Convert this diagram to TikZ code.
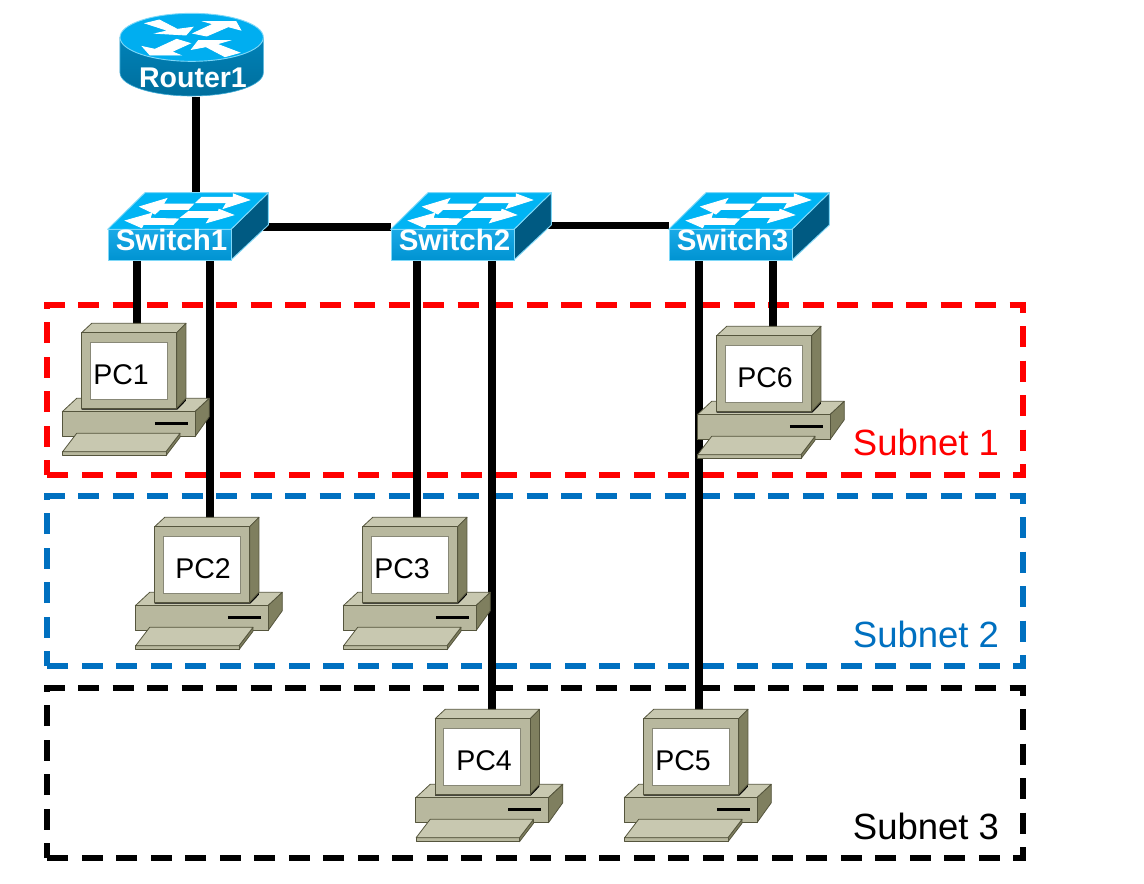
\documentclass[tikz,border=0pt]{standalone}
\usepackage{fontspec}
\setmainfont{Liberation Sans}
\pgfdeclarelayer{dashes}
\pgfdeclarelayer{wires}
\pgfsetlayers{dashes,wires,main}
\definecolor{pcface}{HTML}{B8B89E}
\definecolor{pctop}{HTML}{C8C8B0}
\definecolor{pcside}{HTML}{7F7F5F}
\definecolor{pcline}{HTML}{55553D}
\definecolor{swtop}{HTML}{00B4F4}
\definecolor{swfront}{HTML}{00A0E4}
\definecolor{swside}{HTML}{005A82}
\definecolor{swedge}{HTML}{7FD8F8}
\definecolor{rtop}{HTML}{00AEF0}
\definecolor{rbody}{HTML}{0082B8}
\definecolor{netblue}{HTML}{0070C0}
\tikzset{
  wire/.style={line width=7.4pt,black},
  subnetbox/.style={line width=6pt,dash pattern=on 21pt off 13.5pt,dash phase=6pt},
  subnetlabel/.style={anchor=base,inner sep=0pt,font=\fontsize{36.5}{36.5}\selectfont},
  pcpart/.style={draw=pcline,line width=.8pt,line join=round},
  pcbody/.style={minimum width=95pt,minimum height=75pt,inner sep=0pt},
  pclabel/.style={anchor=base,inner sep=0pt,font=\fontsize{28.5}{28.5}\selectfont,text=black},
  swbody/.style={draw=swedge,line width=.9pt,top color=swfront!90!white,bottom color=swfront!92!black,minimum width=123pt,minimum height=31pt,inner sep=0pt,text=white,font=\bfseries\fontsize{29.5}{29.5}\selectfont},
  swpart/.style={draw=swedge,line width=.9pt,line join=round},
  rtbody/.style={minimum width=144pt,minimum height=59pt,inner sep=0pt,text=white,font=\bfseries\fontsize{28.5}{28.5}\selectfont},
  whitearrow/.style={fill=white,draw=white,line width=.9pt,line join=miter},
  magnified/.style={x=0.33333pt,y=-0.33333pt},
}
% name, dx, dy, label dx
\newcommand{\PCicon}[5]{%
  \begin{scope}[magnified,shift={(150+#2*3,930+#3*3)}]
    % base
    \path[pcpart,fill=pctop] (37,305)--(80,265)--(478,265)--(435,305)--cycle;
    \path[pcpart,fill=pcside] (435,305)--(478,265)--(478,320)--(435,380)--cycle;
    \path[pcpart,fill=pcface] (37,305) rectangle (435,380);
    \draw[line width=2.4pt,black] (315,340)--(413,340);
    % keyboard
    \path[pcpart,fill=pcside] (348,425)--(390,370)--(390,382)--(348,437)--cycle;
    \path[pcpart,fill=pcface] (38,425) rectangle (348,437);
    \path[pcpart,fill=pctop] (38,425)--(80,370)--(390,370)--(348,425)--cycle;
    % monitor shadow
    \fill[black] (95,290)--(380,290)--(408,265)--(408,272)--(382,299)--(95,299)--cycle;
    % monitor
    \path[pcpart,fill=pctop] (95,68)--(125,40)--(408,40)--(380,68)--cycle;
    \path[pcpart,fill=pcside] (380,68)--(408,40)--(408,265)--(380,295)--cycle;
    \path[pcpart,fill=pcface] (95,68) rectangle (380,295);
    \path[draw=pcline!70,line width=.8pt,fill=white] (120,97) rectangle (352,268);
  \end{scope}
  \node[pcbody] (#1) at (129.5+#2,370.5+#3) {};
  \node[pclabel] (#1label) at (128.5+#2+#4,384.5+#3) {#5};
}
% name, dx, label
\newcommand{\SWicon}[3]{%
  \begin{scope}[magnified,shift={(285+#2*3,540)}]
    \path[swpart,fill=swside] (408,148)--(520,38)--(520,135)--(408,240)--cycle;
    \path[swpart,fill=swtop] (38,148)--(150,38)--(520,38)--(408,148)--cycle;
    \path[whitearrow] (320,52)--(415,52)--(415,42)--(463,60)--(385,85)--(395,68)--(303,68)--cycle;
    \path[whitearrow] (135,80)--(215,56)--(205,72)--(295,72)--(280,88)--(195,88)--(180,102)--cycle;
    \path[whitearrow] (280,95)--(370,95)--(372,88)--(415,105)--(335,128)--(345,112)--(258,112)--cycle;
    \path[whitearrow] (92,122)--(170,100)--(165,115)--(250,117)--(235,133)--(145,133)--(140,143)--cycle;
  \end{scope}
  \node[swbody] (#1) at (169.5+#2,244.5) {\hspace*{4pt}\raisebox{-5.5pt}[0pt][0pt]{#3}};
}
\begin{document}
\begin{tikzpicture}[x=1pt,y=-1pt]
\useasboundingbox (0,0) rectangle (1144,884);
\begin{pgfonlayer}{dashes}
\fill[white] (0,0) rectangle (1144,884);
\end{pgfonlayer}

% router
\begin{scope}[magnified,shift={(300,0)}]
  \path[top color=rbody,bottom color=rbody!85!black,draw=swedge!50!rbody,line width=.6pt]
    (60,112) -- (60,218) arc[start angle=180,end angle=0,x radius=215,y radius=70]
    -- (490,112) -- cycle;
  \path[fill=rtop,draw=swedge,line width=.9pt] (275,112) ellipse[x radius=215,y radius=72];
  \path[whitearrow] (137,70)--(178,60)--(232,88)--(278,82)--(258,105)--(170,100)--(205,92)--cycle;
  \path[whitearrow] (280,100)--(340,72)--(315,65)--(408,65)--(422,90)--(385,80)--(320,108)--cycle;
  \path[whitearrow] (230,118)--(270,130)--(215,155)--(240,165)--(150,165)--(128,140)--(165,148)--cycle;
  \path[whitearrow] (275,148)--(295,122)--(385,122)--(350,132)--(418,158)--(375,170)--(318,140)--cycle;
\end{scope}
\node[rtbody] (router1) at (192,67) {\hspace*{2pt}\raisebox{-20pt}[0pt][0pt]{Router1}};

% switches
\SWicon{sw1}{0}{Switch1}
\SWicon{sw2}{283}{Switch2}
\SWicon{sw3}{561}{Switch3}

% PCs
\PCicon{pc1}{0}{0}{-7.5}{PC1}
\PCicon{pc2}{73}{194}{1.5}{PC2}
\PCicon{pc3}{281}{194}{-7.5}{PC3}
\PCicon{pc4}{353.5}{386}{2}{PC4}
\PCicon{pc5}{562}{386}{-7.5}{PC5}
\PCicon{pc6}{635}{3}{1.5}{PC6}

% subnets
\begin{pgfonlayer}{dashes}
  \draw[subnetbox,red] (47,475) -- (47,305) -- (1023,305) -- (1023,475) -- cycle;
  \draw[subnetbox,netblue] (47,666) -- (47,496) -- (1023,496) -- (1023,666) -- cycle;
  \draw[subnetbox,black] (47,858) -- (47,688) -- (1023,688) -- (1023,858) -- cycle;
\end{pgfonlayer}
\node[subnetlabel,text=red] (s1) at (926,455) {Subnet 1};
\node[subnetlabel,text=netblue] (s2) at (926,647) {Subnet 2};
\node[subnetlabel,text=black] (s3) at (926,839) {Subnet 3};

% connectors
\coordinate (rw) at ([xshift=4pt]router1.south);
\coordinate (a1) at ([xshift=-32.5pt]sw1.south);
\coordinate (a2) at ([xshift=40.5pt]sw1.south);
\coordinate (a3) at ([xshift=-35.5pt]sw2.south);
\coordinate (a4) at ([xshift=39.5pt]sw2.south);
\coordinate (a5) at ([xshift=-31.5pt]sw3.south);
\coordinate (a6) at ([xshift=42.5pt]sw3.south);
\coordinate (l1) at ([yshift=17.5pt]sw1.east);
\coordinate (l2) at ([yshift=19pt]sw2.east);
\begin{pgfonlayer}{wires}
  \draw[wire] (rw) -- (rw |- sw1.north);
  \draw[wire] (l1) -- (l1 -| sw2.west);
  \draw[wire] (l2) -- (l2 -| sw3.west);
  \draw[wire] (a1) -- (a1 |- pc1.north);
  \draw[wire] (a2) -- (a2 |- pc2.north);
  \draw[wire] (a3) -- (a3 |- pc3.north);
  \draw[wire] (a4) -- (a4 |- pc4.north);
  \draw[wire] (a5) -- (a5 |- pc5.north);
  \draw[wire] (a6) -- (a6 |- pc6.north);
\end{pgfonlayer}
\end{tikzpicture}
\end{document}
